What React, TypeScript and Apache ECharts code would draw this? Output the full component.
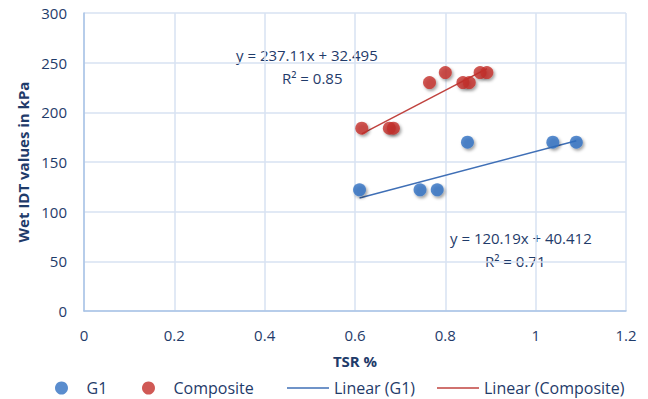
import React, { useEffect, useRef } from "react";
import * as echarts from "echarts";

const g1X = [0.61, 0.744, 0.782, 0.849, 1.038, 1.09];
const g1Y = [122, 122, 122, 170, 170, 170];
const compX = [0.615, 0.676, 0.685, 0.765, 0.8, 0.839, 0.853, 0.877, 0.892];
const compY = [184, 184, 184, 230, 240, 230, 230, 240, 240];
const g1Trend = [120.19, 40.412];
const compTrend = [237.11, 32.495];
const xTicks = [0, 1.2, 0.2];
const yTicks = [0, 300, 50];

const FONT = "Open Sans";
const TEXT = "#1F3B6A";
const BLUE = "#3170C2";
const RED = "#C4302B";
const BLUE_LINE = "#3F6FB6";
const RED_LINE = "#C0433F";

function trend(xs: number[], c: number[]) {
  const lo = Math.min(...xs);
  const hi = Math.max(...xs);
  return [
    [lo, c[0] * lo + c[1]],
    [hi, c[0] * hi + c[1]],
  ];
}

export default function App() {
  const ref = useRef<HTMLDivElement>(null);
  useEffect(() => {
    if (!ref.current) return;
    const chart = echarts.init(ref.current, undefined, { renderer: "svg" });
    const shadow = {
      shadowBlur: 3,
      shadowColor: "rgba(0,0,0,0.45)",
      shadowOffsetX: 1.5,
      shadowOffsetY: 2,
    };
    const legendText = { color: TEXT, fontFamily: FONT, fontSize: 16 };
    const dotLegend = {
      top: 375,
      itemWidth: 40,
      itemHeight: 13,
      itemGap: 0,
      textStyle: legendText,
    };
    const lineLegend = {
      top: 375,
      itemWidth: 42,
      itemHeight: 1.5,
      itemGap: 0,
      textStyle: legendText,
    };
    chart.setOption({
      animation: false,
      backgroundColor: "#ffffff",
      textStyle: { fontFamily: FONT },
      grid: { left: 84, right: 22, top: 13, bottom: 88 },
      xAxis: {
        type: "value",
        min: xTicks[0],
        max: xTicks[1],
        interval: xTicks[2],
        name: "TSR %",
        nameLocation: "middle",
        nameGap: 42,
        nameTextStyle: { color: TEXT, fontFamily: FONT, fontSize: 15, fontWeight: "bold" },
        axisLine: { show: true, lineStyle: { color: "#A9C3E6", width: 1.5 } },
        axisTick: { show: false },
        axisLabel: { color: TEXT, fontFamily: FONT, fontSize: 15, margin: 16 },
        splitLine: { show: true, lineStyle: { color: "#D7E2F2", width: 1.5 } },
      },
      yAxis: {
        type: "value",
        min: yTicks[0],
        max: yTicks[1],
        interval: yTicks[2],
        name: "Wet IDT values in kPa",
        nameLocation: "middle",
        nameGap: 52,
        nameTextStyle: { color: TEXT, fontFamily: FONT, fontSize: 15, fontWeight: "bold" },
        axisLine: { show: true, lineStyle: { color: "#A9C3E6", width: 1.5 } },
        axisTick: { show: false },
        axisLabel: { color: TEXT, fontFamily: FONT, fontSize: 15, margin: 17 },
        splitLine: { show: true, lineStyle: { color: "#D7E2F2", width: 1.5 } },
      },
      legend: [
        { ...dotLegend, left: 50, data: [{ name: "G1", icon: "circle" }] },
        { ...dotLegend, left: 137, data: [{ name: "Composite", icon: "circle" }] },
        { ...lineLegend, left: 282, data: [{ name: "Linear (G1)", icon: "rect" }] },
        { ...lineLegend, left: 432, data: [{ name: "Linear (Composite)", icon: "rect" }] },
      ],
      series: [
        {
          name: "Linear (G1)",
          type: "line",
          symbol: "none",
          data: trend(g1X, g1Trend),
          lineStyle: { color: BLUE_LINE, width: 1.5 },
          itemStyle: { color: BLUE_LINE },
          z: 1,
        },
        {
          name: "Linear (Composite)",
          type: "line",
          symbol: "none",
          data: trend(compX, compTrend),
          lineStyle: { color: RED_LINE, width: 1.5 },
          itemStyle: { color: RED_LINE },
          z: 1,
        },
        {
          name: "G1",
          type: "scatter",
          symbolSize: 13,
          data: g1X.map((x, i) => [x, g1Y[i]]),
          itemStyle: { color: BLUE, ...shadow },
          z: 3,
        },
        {
          name: "Composite",
          type: "scatter",
          symbolSize: 13,
          data: compX.map((x, i) => [x, compY[i]]),
          itemStyle: { color: RED, ...shadow },
          z: 3,
        },
      ],
      graphic: [
        {
          type: "text",
          left: 236,
          top: 47,
          style: { text: "y = 237.11x + 32.495", fill: TEXT, font: `15px "${FONT}"` },
        },
        {
          type: "text",
          left: 282,
          top: 70,
          style: { text: "R² = 0.85", fill: TEXT, font: `15px "${FONT}"` },
        },
        {
          type: "text",
          left: 450,
          top: 230,
          style: { text: "y = 120.19x + 40.412", fill: TEXT, font: `15px "${FONT}"` },
        },
        {
          type: "text",
          left: 485,
          top: 253,
          style: { text: "R² = 0.71", fill: TEXT, font: `15px "${FONT}"` },
        },
      ],
    });
    return () => chart.dispose();
  }, []);
  return <div ref={ref} style={{ width: 648, height: 399, position: "absolute", left: 0, top: 0 }} />;
}
